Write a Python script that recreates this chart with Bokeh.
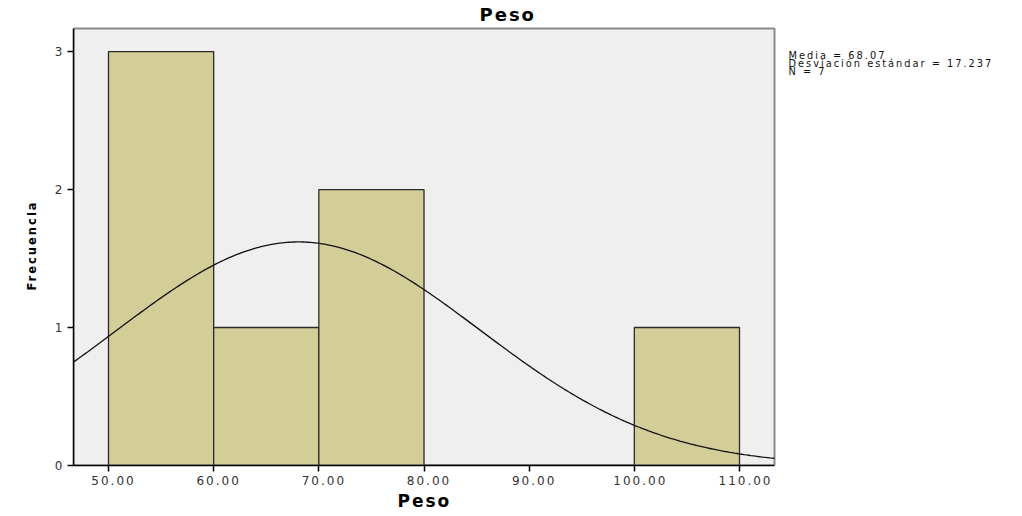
import numpy as np
from bokeh.plotting import figure
from bokeh.models import (Range1d, FixedTicker, NumeralTickFormatter, ColumnDataSource,
                          Title, InlineStyleSheet)
from bokeh.core.properties import value
from bokeh.embed import file_html
from bokeh.resources import INLINE

# Data
bin_left = [50, 60, 70, 80, 90, 100]
bin_right = [60, 70, 80, 90, 100, 110]
counts = [3, 1, 2, 0, 0, 1]
media = 68.07
desv = 17.237
n = 7
bin_width = 10
x_ticks = [50, 60, 70, 80, 90, 100, 110]
y_ticks = [0, 1, 2, 3]
stats_lines = ["Media = 68.07", "Desviación estándar = 17.237", "N = 7"]

FONT = "DejaVu Sans"

# plot-area extents (data units)
X0, X1 = 46.672, 113.328
Y1 = 3.167
PX = 10.5167  # px per x unit
PY = 138.0    # px per y unit

FW, FH = 941, 439
x_end = X0 + FW / PX
y_end = Y1 + 2 / PY

p = figure(frame_width=FW, frame_height=FH, output_backend="svg", toolbar_location=None,
           x_range=Range1d(X0, x_end), y_range=Range1d(0, y_end),
           min_border_left=73, min_border_right=0, min_border_top=26,
           min_border_bottom=30)
p.stylesheets = [InlineStyleSheet(css=":host { letter-spacing: 2px; }")]

p.title.text = "Peso"
p.title.align = "left"
p.title.offset = 406
p.title.text_font = FONT
p.title.text_font_size = "18px"
p.title.text_font_style = "bold"
p.title.text_color = "#000000"
p.title.standoff = 3

xlab = Title(text="Peso", align="left", offset=324, text_font=FONT, text_font_size="17px",
             text_font_style="bold", text_color="#000000", standoff=3)
p.add_layout(xlab, "below")

p.background_fill_color = "white"
p.border_fill_color = "white"
p.outline_line_color = None
p.grid.visible = False

# plot area panel
p.quad(left=[X0], right=[X1], bottom=[0], top=[Y1], fill_color="#EFEFEF",
       line_color="#8A8A8A", line_width=2, level="underlay")

src = ColumnDataSource(dict(left=bin_left, right=bin_right, top=counts))
p.quad(left="left", right="right", bottom=0, top="top", source=src,
       fill_color="#D3CE97", line_color="#2A2A2A", line_width=1.3)

xs = np.linspace(X0, X1, 300)
ys = n * bin_width / (desv * np.sqrt(2 * np.pi)) * np.exp(-0.5 * ((xs - media) / desv) ** 2)
p.line(xs, ys, line_color="#111111", line_width=1.3)

p.xaxis.ticker = FixedTicker(ticks=x_ticks)
p.xaxis.formatter = NumeralTickFormatter(format="0.00")
p.yaxis.ticker = FixedTicker(ticks=y_ticks)
p.xaxis.bounds = (X0, X1)
p.yaxis.bounds = (0, Y1)
p.xaxis.minor_tick_line_color = None
p.yaxis.minor_tick_line_color = None
for ax in (p.xaxis, p.yaxis):
    ax.axis_line_color = "#000000"
    ax.axis_line_width = 1.5
    ax.major_tick_line_color = "#000000"
    ax.major_tick_line_width = 1.5
    ax.major_tick_in = 0
    ax.major_tick_out = 6
    ax.major_label_text_font = FONT
    ax.major_label_text_font_size = "12px"
    ax.major_label_text_color = "#333333"

p.xaxis.major_label_standoff = 4
p.yaxis.major_label_standoff = 5

ylab = Title(text="Frecuencia", align="left", offset=175, text_font="DejaVu Sans Condensed",
             text_font_size="12.8px", text_font_style="bold", text_color="#000000",
             standoff=26)
p.add_layout(ylab, "left")

# stats annotation
stats_x = X1 + 14 / PX
stats_y = [(465 - 55) / PY, (465 - 63) / PY, (465 - 70.5) / PY]
p.text(x=[stats_x] * 3, y=stats_y, text=stats_lines, text_font=value(FONT),
       text_font_size="9.8px", text_baseline="middle", text_align="left",
       text_color="#111111")

open("out.html", "w").write(file_html(p, INLINE))
